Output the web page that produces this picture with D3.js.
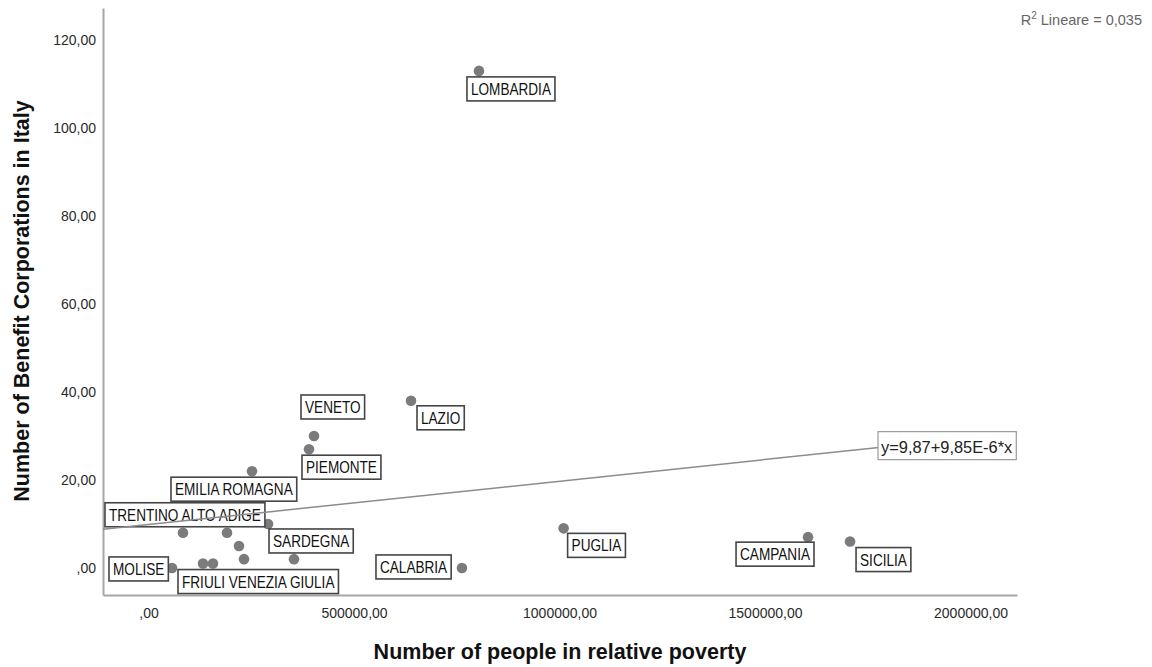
<!DOCTYPE html>
<html>
<head>
<meta charset="utf-8">
<script src="https://cdn.jsdelivr.net/npm/d3@7"></script>
<style>
  html, body { margin: 0; padding: 0; background: #fff; }
  svg { display: block; font-family: "Liberation Sans", Arial, sans-serif; }
</style>
</head>
<body>
<svg id="chart" width="1152" height="667"></svg>
<script>
// Regions: people in relative poverty vs. number of benefit corporations
const regionNames = ["LOMBARDIA", "VENETO", "PIEMONTE", "LAZIO", "EMILIA ROMAGNA",
  "SARDEGNA", "TRENTINO ALTO ADIGE", "", "", "", "FRIULI VENEZIA GIULIA", "",
  "MOLISE", "", "PUGLIA", "CALABRIA", "CAMPANIA", "SICILIA"];
const povertyPeople = [804000, 402700, 390500, 638700, 251800,
  290800, 83900, 191000, 220200, 232400, 132600, 156900,
  57200, 354000, 1010000, 762700, 1604700, 1706900];
const benefitCorps = [113, 30, 27, 38, 22,
  10, 8, 8, 5, 2, 1, 1,
  0, 2, 9, 0, 7, 6];

// Linear fit reported by the model
const fitIntercept = 9.87;
const fitSlope = 9.85e-6;
const fitLabel = "y=9,87+9,85E-6*x";
const rSquared = "0,035";

// Axis ticks
const xTicks = [0, 500000, 1000000, 1500000, 2000000];
const yTicks = [0, 20, 40, 60, 80, 100, 120];

// Label box placement (top-left corner relative to the point, in px)
const labelOffsets = {
  "LOMBARDIA": [-12, 6], "VENETO": [-13, -41], "PIEMONTE": [-7, 6],
  "LAZIO": [6, 5], "EMILIA ROMAGNA": [-81, 6], "SARDEGNA": [1, 5],
  "TRENTINO ALTO ADIGE": [-78, -30], "FRIULI VENEZIA GIULIA": [-25, 6],
  "MOLISE": [-63, -11], "PUGLIA": [4, 5], "CALABRIA": [-86, -13],
  "CAMPANIA": [-72, 5], "SICILIA": [6, 6]
};

const svg = d3.select("#chart");
const plotL = 103, plotR = 1017, plotT = 8, plotB = 595;

const x = d3.scaleLinear().domain([-110700, 2113100]).range([plotL, plotR]);
const y = d3.scaleLinear().domain([-6.15, 127.3]).range([plotB, plotT]);

const fmt = v => {
  const s = d3.format(".2f")(v).replace(".", ",");
  return s.startsWith("0,") ? s.slice(1) : s;
};

// Axes (no tick marks, plain labels)
const xAxis = d3.axisBottom(x).tickValues(xTicks).tickSize(0).tickPadding(13).tickFormat(fmt);
const yAxis = d3.axisLeft(y).tickValues(yTicks).tickSize(0).tickPadding(7).tickFormat(fmt);

const gx = svg.append("g").attr("transform", `translate(0,${plotB})`).call(xAxis);
const gy = svg.append("g").attr("transform", `translate(${plotL},0)`).call(yAxis);
[gx, gy].forEach(g => {
  g.select(".domain").attr("stroke", "#a6a6a6").attr("stroke-width", 2);
  g.selectAll(".tick text").attr("font-size", 14).attr("fill", "#2a2a2a")
    .attr("font-family", "'Liberation Sans', Arial, sans-serif");
});

// Axis titles
svg.append("text")
  .attr("x", 560).attr("y", 659)
  .attr("text-anchor", "middle").attr("font-size", 21.5).attr("font-weight", "bold")
  .attr("fill", "#111").text("Number of people in relative poverty");
svg.append("text")
  .attr("transform", "translate(29,301) rotate(-90)")
  .attr("text-anchor", "middle").attr("font-size", 21.5).attr("font-weight", "bold")
  .attr("fill", "#111").text("Number of Benefit Corporations in Italy");

const points = povertyPeople.map((v, i) => ({ name: regionNames[i], xv: v, yv: benefitCorps[i] }));

// Points
svg.append("g").selectAll("circle").data(points).join("circle")
  .attr("cx", d => x(d.xv)).attr("cy", d => y(d.yv)).attr("r", 5.3)
  .attr("fill", "#7b7b7b");

// Region label boxes (narrow text)
const sx = 0.85;
const labels = svg.append("g").selectAll("g").data(points.filter(d => d.name)).join("g")
  .attr("transform", d => {
    const o = labelOffsets[d.name];
    return `translate(${x(d.xv) + o[0]},${y(d.yv) + o[1]})`;
  });
labels.each(function(d) {
  const g = d3.select(this);
  const rect = g.append("rect").attr("fill", "#fff").attr("stroke", "#454545").attr("stroke-width", 1.6);
  const t = g.append("text").attr("transform", `translate(4,18) scale(${sx},1)`)
    .attr("font-size", 16).attr("fill", "#111").text(d.name);
  const w = t.node().getComputedTextLength() * sx;
  rect.attr("width", w + 8).attr("height", 24);
});

// Fit line across the plot
const xd = x.domain();
svg.append("line")
  .attr("x1", x(xd[0])).attr("y1", y(fitIntercept + fitSlope * xd[0]))
  .attr("x2", x(xd[1])).attr("y2", y(fitIntercept + fitSlope * xd[1]))
  .attr("stroke", "#8c8c8c").attr("stroke-width", 1.5);

// Fit equation label, anchored on the line near the right edge
const eqX = 1775000;
const eq = svg.append("g").attr("transform", `translate(${x(eqX)},${y(fitIntercept + fitSlope * eqX) - 16})`);
const eqRect = eq.append("rect").attr("fill", "#fff").attr("stroke", "#9a9a9a").attr("stroke-width", 1.2);
const eqText = eq.append("text").attr("x", 3).attr("y", 21)
  .attr("font-size", 16.4).attr("fill", "#222").text(fitLabel);
eqRect.attr("width", eqText.node().getComputedTextLength() + 7).attr("height", 28);

// R² annotation
const r2 = svg.append("text").attr("x", 1142).attr("y", 25).attr("text-anchor", "end")
  .attr("font-size", 14.5).attr("fill", "#666");
r2.append("tspan").text("R");
r2.append("tspan").attr("dy", -6).attr("font-size", 10).text("2");
r2.append("tspan").attr("dy", 6).text(" Lineare = " + rSquared);
</script>
</body>
</html>
